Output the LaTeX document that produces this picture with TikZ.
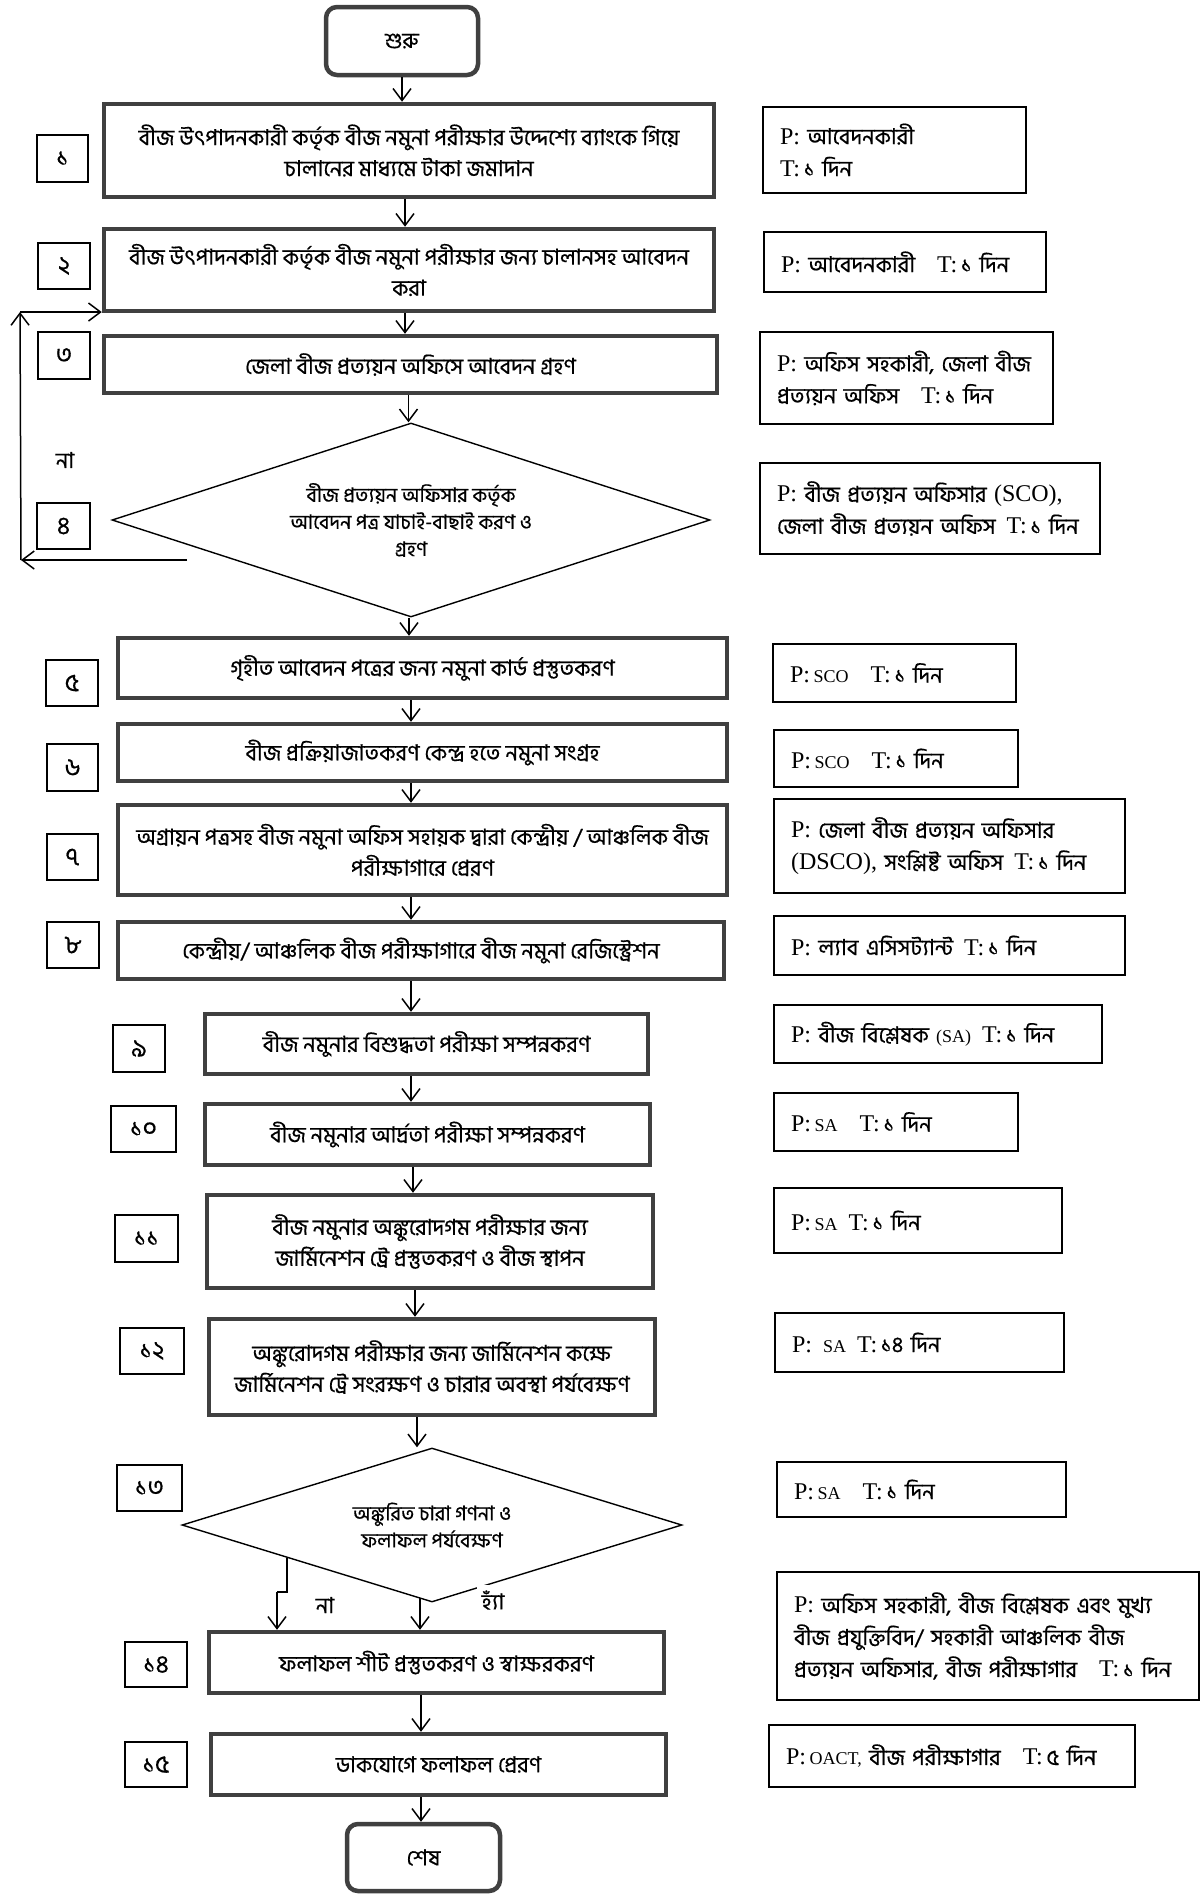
\documentclass[tikz,border=0pt]{standalone}
\usepackage{fontspec}
\setmainfont{Hind Siliguri}[Script=Bengali, FakeBold=0.5]
\newfontfamily\latfont{Liberation Serif}
\usetikzlibrary{arrows.meta,shapes.geometric}
\newcommand\PL[1]{{\latfont\fontsize{24}{28}\selectfont #1}}
\newcommand\AB[1]{{\latfont\fontsize{18}{20}\selectfont #1}}
\newcommand\LN[1]{\mbox{#1}}
\begin{document}
\begin{tikzpicture}[x=1pt,y=-1pt,
  mainbox/.style={draw=black!75, line width=4.5pt, align=center, inner sep=0pt, font=\fontsize{22}{31}\selectfont},
  term/.style={mainbox, rounded corners=11pt},
  numbox/.style={draw, line width=1.3pt, inner sep=0pt, font=\fontsize{25}{28}\selectfont},
  infobox/.style={draw, line width=1.4pt, align=left, inner ysep=0pt, inner xsep=17pt, font=\fontsize{22}{32}\selectfont},
  dec/.style={diamond, shape aspect=3, draw, line width=1.4pt, inner sep=0pt, align=center, font=\fontsize{20}{27}\selectfont},
  arr/.style={-{Straight Barb[length=12pt,width=18pt,line width=1.5pt]}, line width=1.5pt},
  plainline/.style={line width=1.5pt},
  lbl/.style={inner sep=2pt, font=\fontsize{22}{26}\selectfont}
]
\fill[white] (0,0) rectangle (1200,1896);
\useasboundingbox (0,0) rectangle (1200,1896);

% terminals
\node[term, minimum width=152pt, minimum height=68pt] (start) at (402,41) {শুরু};
\node[term, minimum width=153pt, minimum height=67pt] (end) at (423.5,1857.5) {শেষ};

% main boxes
\node[mainbox, minimum width=610pt, minimum height=93pt] (b1) at (409,150.5) {বীজ উৎপাদনকারী কর্তৃক বীজ নমুনা পরীক্ষার উদ্দেশ্যে ব্যাংকে গিয়ে\\চালানের মাধ্যমে টাকা জমাদান};
\node[mainbox, minimum width=610pt, minimum height=82pt] (b2) at (409,270) {বীজ উৎপাদনকারী কর্তৃক বীজ নমুনা পরীক্ষার জন্য চালানসহ আবেদন\\করা};
\node[mainbox, minimum width=613pt, minimum height=57pt] (b3) at (410.5,364.5) {জেলা বীজ প্রত্যয়ন অফিসে আবেদন গ্রহণ};
\node[dec, minimum width=598pt, minimum height=194pt] (d4) at (411,520) {বীজ প্রত্যয়ন অফিসার কর্তৃক\\আবেদন পত্র যাচাই-বাছাই করণ ও\\গ্রহণ};
\node[mainbox, minimum width=609pt, minimum height=60pt] (b5) at (422.5,668) {গৃহীত আবেদন পত্রের জন্য নমুনা কার্ড প্রস্তুতকরণ};
\node[mainbox, minimum width=609pt, minimum height=57pt] (b6) at (422.5,752.5) {বীজ প্রক্রিয়াজাতকরণ কেন্দ্র হতে নমুনা সংগ্রহ};
\node[mainbox, minimum width=609pt, minimum height=90pt] (b7) at (422.5,850) {অগ্রায়ন পত্রসহ বীজ নমুনা অফিস সহায়ক দ্বারা কেন্দ্রীয় / আঞ্চলিক বীজ\\পরীক্ষাগারে প্রেরণ};
\node[mainbox, minimum width=606pt, minimum height=57pt] (b8) at (421,950.5) {কেন্দ্রীয়/ আঞ্চলিক বীজ পরীক্ষাগারে বীজ নমুনা রেজিস্ট্রেশন};
\node[mainbox, minimum width=443pt, minimum height=60pt] (b9) at (426.5,1044) {বীজ নমুনার বিশুদ্ধতা পরীক্ষা সম্পন্নকরণ};
\node[mainbox, minimum width=445pt, minimum height=61pt] (b10) at (427.5,1134.5) {বীজ নমুনার আর্দ্রতা পরীক্ষা সম্পন্নকরণ};
\node[mainbox, minimum width=446pt, minimum height=93pt] (b11) at (430,1241.5) {বীজ নমুনার অঙ্কুরোদগম পরীক্ষার জন্য\\জার্মিনেশন ট্রে প্রস্তুতকরণ ও বীজ স্থাপন};
\node[mainbox, minimum width=446pt, minimum height=96pt] (b12) at (432,1367) {অঙ্কুরোদগম পরীক্ষার জন্য জার্মিনেশন কক্ষে\\জার্মিনেশন ট্রে সংরক্ষণ ও চারার অবস্থা পর্যবেক্ষণ};
\node[dec, minimum width=500pt, minimum height=154pt] (d13) at (432,1525) {অঙ্কুরিত চারা গণনা ও\\ফলাফল পর্যবেক্ষণ};
\node[mainbox, minimum width=455pt, minimum height=61pt] (b14) at (436.5,1662.5) {ফলাফল শীট প্রস্তুতকরণ ও স্বাক্ষরকরণ};
\node[mainbox, minimum width=455pt, minimum height=61pt] (b15) at (438.5,1764.5) {ডাকযোগে ফলাফল প্রেরণ};

% number boxes
\node[numbox, minimum width=51pt, minimum height=47pt] (n1) at (62.5,158.5) {১};
\node[numbox, minimum width=52pt, minimum height=46pt] (n2) at (64,266) {২};
\node[numbox, minimum width=52pt, minimum height=47pt] (n3) at (64,355.5) {৩};
\node[numbox, minimum width=53pt, minimum height=46pt] (n4) at (63.5,526) {৪};
\node[numbox, minimum width=52pt, minimum height=46pt] (n5) at (72,683) {৫};
\node[numbox, minimum width=51pt, minimum height=47pt] (n6) at (72.5,767.5) {৬};
\node[numbox, minimum width=51pt, minimum height=46pt] (n7) at (72.5,857) {৭};
\node[numbox, minimum width=52pt, minimum height=46pt] (n8) at (73,945) {৮};
\node[numbox, minimum width=52pt, minimum height=47pt] (n9) at (139,1048.5) {৯};
\node[numbox, minimum width=65pt, minimum height=46pt] (n10) at (143.5,1129) {১০};
\node[numbox, minimum width=63pt, minimum height=47pt] (n11) at (146.5,1238.5) {১১};
\node[numbox, minimum width=64pt, minimum height=46pt] (n12) at (152,1351) {১২};
\node[numbox, minimum width=65pt, minimum height=46pt] (n13) at (149.5,1488) {১৩};
\node[numbox, minimum width=62pt, minimum height=45pt] (n14) at (156,1664.5) {১৪};
\node[numbox, minimum width=62pt, minimum height=45pt] (n15) at (156,1764.5) {১৫};

% info boxes
\node[infobox, text width=229pt, minimum height=86pt] (r1) at (894.5,150) {\LN{\PL{P:} আবেদনকারী}\\\LN{\PL{T:}\,১ দিন}};
\node[infobox, text width=248pt, minimum height=60pt] (r2) at (905,262) {\LN{\PL{P:} আবেদনকারী\quad\PL{T:}\,১ দিন}};
\node[infobox, text width=259pt, minimum height=92pt] (r3) at (906.5,378) {\LN{\PL{P:} অফিস সহকারী, জেলা বীজ}\\\LN{প্রত্যয়ন অফিস\quad\PL{T:}\,১ দিন}};
\node[infobox, text width=306pt, minimum height=91pt] (r4) at (930,508.5) {\LN{\PL{P:} বীজ প্রত্যয়ন অফিসার \PL{(SCO),}}\\\LN{জেলা বীজ প্রত্যয়ন অফিস\enspace\PL{T:}\,১ দিন}};
\node[infobox, text width=209pt, minimum height=58pt] (r5) at (894.5,673) {\LN{\PL{P:}\,\AB{SCO}\quad\PL{T:}\,১ দিন}};
\node[infobox, text width=210pt, minimum height=57pt] (r6) at (896,758.5) {\LN{\PL{P:}\,\AB{SCO}\quad\PL{T:}\,১ দিন}};
\node[infobox, text width=317pt, minimum height=94pt] (r7) at (949.5,846) {\LN{\PL{P:} জেলা বীজ প্রত্যয়ন অফিসার}\\\LN{\PL{(DSCO),} সংশ্লিষ্ট অফিস\enspace\PL{T:}\,১ দিন}};
\node[infobox, text width=317pt, minimum height=59pt] (r8) at (949.5,945.5) {\LN{\PL{P:} ল্যাব এসিসট্যান্ট\enspace\PL{T:}\,১ দিন}};
\node[infobox, text width=294pt, minimum height=58pt] (r9) at (938,1034) {\LN{\PL{P:} বীজ বিশ্লেষক \AB{(SA)}\enspace\PL{T:}\,১ দিন}};
\node[infobox, text width=210pt, minimum height=58pt] (r10) at (896,1122) {\LN{\PL{P:}\,\AB{SA}\quad\PL{T:}\,১ দিন}};
\node[infobox, text width=254pt, minimum height=65pt] (r11) at (918,1220.5) {\LN{\PL{P:}\,\AB{SA}\enspace\PL{T:}\,১ দিন}};
\node[infobox, text width=255pt, minimum height=59pt] (r12) at (919.5,1342.5) {\LN{\PL{P:}\enspace\AB{SA}\enspace\PL{T:}\,১৪ দিন}};
\node[infobox, text width=255pt, minimum height=55pt] (r13) at (921.5,1489.5) {\LN{\PL{P:}\,\AB{SA}\quad\PL{T:}\,১ দিন}};
\node[infobox, text width=388pt, minimum height=128pt] (r14) at (988,1636) {\LN{\PL{P:} অফিস সহকারী, বীজ বিশ্লেষক এবং মুখ্য}\\\LN{বীজ প্রযুক্তিবিদ/ সহকারী আঞ্চলিক বীজ}\\\LN{প্রত্যয়ন অফিসার, বীজ পরীক্ষাগার\quad\PL{T:}\,১ দিন}};
\node[infobox, text width=332pt, minimum height=62pt] (r15) at (952,1756) {\LN{\PL{P:}\,\AB{OACT,} বীজ পরীক্ষাগার\quad\PL{T:}\,৫ দিন}};

% main flow arrows
\draw[arr] (start.south) -- (start.south |- b1.north);
\draw[arr] ([xshift=-4pt]b1.south) -- ([xshift=-4pt]b1.south |- b2.north);
\draw[arr] ([xshift=-4pt]b2.south) -- ([xshift=-4pt]b2.south |- b3.north);
\draw[arr] ([xshift=-2pt]b3.south) -- ([xshift=-2pt]b3.south |- d4.north);
\draw[arr] ([xshift=-2pt]d4.south) -- ([xshift=-2pt]d4.south |- b5.north);
\draw[arr] ([xshift=-11.5pt]b5.south) -- ([xshift=-11.5pt]b5.south |- b6.north);
\draw[arr] ([xshift=-11.5pt]b6.south) -- ([xshift=-11.5pt]b6.south |- b7.north);
\draw[arr] ([xshift=-11.5pt]b7.south) -- ([xshift=-11.5pt]b7.south |- b8.north);
\draw[arr] ([xshift=-10pt]b8.south) -- ([xshift=-10pt]b8.south |- b9.north);
\draw[arr] ([xshift=-15.5pt]b9.south) -- ([xshift=-15.5pt]b9.south |- b10.north);
\draw[arr] ([xshift=-14.5pt]b10.south) -- ([xshift=-14.5pt]b10.south |- b11.north);
\draw[arr] ([xshift=-15pt]b11.south) -- ([xshift=-15pt]b11.south |- b12.north);
\draw[arr] ([xshift=-15pt]b12.south) -- ([xshift=-15pt]b12.south |- d13.north);
\draw[arr] ([xshift=-15.5pt]b14.south) -- ([xshift=-15.5pt]b14.south |- b15.north);
\draw[arr] ([xshift=-17.5pt]b15.south) -- ([xshift=-17.5pt]b15.south |- end.north);

% feedback loop (না) from decision 4 back to step 2
\coordinate (fbA) at (187,560);
\coordinate (fbB) at (21,560);
\coordinate (fbC) at (20,312);
\draw[arr] (fbA) -- (fbB);
\draw[arr] (fbB) -- (fbC);
\draw[arr] (fbC) -- (fbC -| b2.west);
\node[lbl] (no4) at (65,460) {না};

% decision 13 branches
\coordinate (no1) at (287,1558);
\coordinate (no2) at (287,1592);
\coordinate (no3) at (277,1592);
\draw[plainline] (no1) -- (no2) -- (no3);
\draw[arr] (no3) -- (no3 |- b14.north);
\coordinate (yes1) at (420,1598);
\draw[arr] (yes1) -- (yes1 |- b14.north);
\node[lbl] (no13) at (325,1605) {না};
\node[lbl, fill=white, inner sep=5pt] (yes13) at (493,1600) {হ্যাঁ};
\end{tikzpicture}
\end{document}
